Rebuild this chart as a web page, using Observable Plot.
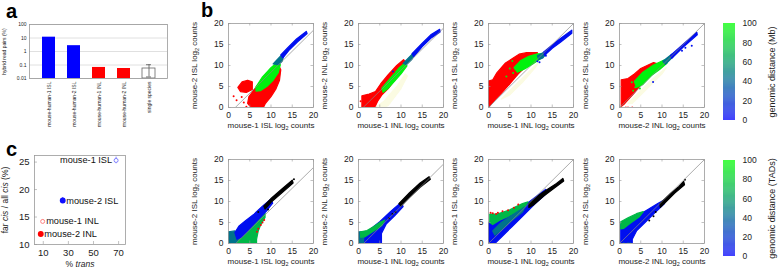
<!DOCTYPE html>
<html><head><meta charset="utf-8">
<script src="https://cdn.jsdelivr.net/npm/d3@7"></script>
<script src="https://cdn.jsdelivr.net/npm/@observablehq/plot@0.6"></script>
<style>
body{margin:0;background:#fff;}
#root{position:relative;width:778px;height:272px;overflow:hidden;font-family:"Liberation Sans",Arial,Helvetica,sans-serif;background:#fff;}
#root svg{position:absolute;overflow:visible;}
.plab{position:absolute;font-weight:bold;font-size:20px;line-height:21px;color:#000;}
</style></head><body><div id="root"></div>
<script>
// ---------------- DATA ----------------
// panel a
const aCategories = ["mouse-human-1 ISL","mouse-human-2 ISL","mouse-human-1 INL","mouse-human-2 INL","single species"];
const aGroups = ["ISL","ISL","INL","INL","single"];
const aValues = [11.5, 2.7, 0.066, 0.055, 0.055];
const aErrCategory = ["single species"];
const aErrLow = [0.013];
const aErrHigh = [0.105];
const aTicks = [0.01, 0.1, 1, 10, 100];

// panel c
const cSamples = ["mouse-1 ISL","mouse-2 ISL","mouse-1 INL","mouse-2 INL"];
const cTrans = [68, 25.5, 9.5, 8];
const cFarCis = [25.3, 18.0, 14.2, 11.9];
const cErr = [0.6, 0.5, 0.3, 0.3];
const cOpen = [true, false, true, false];
const cXTicks = [10, 30, 50, 70];
const cYTicks = [10, 15, 20, 25];

// panel b : tick labels and titles
const bTicks = [0, 5, 10, 15, 20];
const cbTicks = [0, 20, 40, 60, 80, 100];
const cbTitleTop = "genomic distance (Mb)";
const cbTitleBottom = "genomic distance (TADs)";

// panel b : clouds, [log2 x, log2 y]
// top row
const T1_diag = [[1.6,0],[20,18.4]];
const T1_red = [[4.5,1.0],[4.8,2.6],[6,4.2],[8,6.8],[10,9.2],[11.6,10.4],[12.3,9],[12,6.5],[11.2,4.5],[10,2.6],[8.7,1],[8.2,0],[5.6,0],[5,0.4]];
const T1_redIsland = [[2.2,4.8],[3.2,6.1],[4.5,6.5],[5.6,6.1],[5.6,4.3],[4.2,3.6],[2.8,3.8]];
const T1_green = [[6.4,4.8],[8,7.3],[10,9.5],[11.5,10.8],[12.2,10.2],[11.7,8.3],[10.5,6.5],[9,5],[7.5,4],[6.5,3.9]];
const T1_teal = [[10.5,10.4],[12.5,12.5],[13,12.3],[12.6,11],[11.8,10.2]];
const T1_blue = [[12.3,12.5],[14,14.3],[16,16.3],[18.3,18.1],[18.5,17.6],[16.2,15.6],[14.2,13.6],[12.8,11.8]];
const T1_redDots = [[1.2,2.7],[1.9,1.7],[3.1,2.5],[3.6,1.2],[6.4,0],[7,0],[4.2,0.2]];

const T2_diag = [[1.1,0],[20,18.9]];
const T2_pale = [[4,0],[6,1.5],[9,5],[11,8],[11.5,7.5],[10,4.5],[7,0.5],[6,0]];
const T2_red = [[0.8,0],[0.8,2.8],[2.5,3.2],[4,3.8],[5.2,5.6],[7,7.8],[9,10],[10.6,11.4],[11.2,10.6],[10,8.6],[8.5,6.5],[7,4.5],[5.5,3],[4.5,1.5],[4,0.4],[3.5,0]];
const T2_green = [[5.5,4.6],[7.5,7],[9.5,9.4],[11,10.6],[11.4,9.9],[10,8],[8.5,6.3],[7,4.6],[5.8,3.6]];
const T2_teal = [[10.5,10.5],[12.8,12.9],[13.2,12.5],[12.5,11.4],[11.3,10.2]];
const T2_blue = [[12.6,12.8],[15,15.3],[17,17.3],[19.1,18.6],[19.2,18.0],[17,16.5],[15,14.5],[13,12.1]];
const T2_redDots = [[0.5,1.5],[1.5,0.4],[2.5,0],[4,0],[8.3,8.4]];
const T2_blueDots = [[8.1,8.6]];

const T3_diag = [[0,0],[20,20]];
const T3_pale = [[3,2],[6,5],[9,8],[12,11],[11,9.5],[8,6],[5,3]];
const T3_red = [[0,0],[0,6.3],[1,6.6],[2,8.3],[4,10.6],[6,11.9],[7.2,12.7],[9,13.1],[11.5,13.1],[11.3,11.8],[9,10],[7,8],[5,5.6],[3,3.4],[1.5,1.8],[0.5,0.6]];
const T3_green = [[6,9.5],[7.5,11.1],[9.5,12.2],[11.5,12.8],[12.8,12.8],[12.2,11.6],[10.5,10.4],[8.5,9.2],[6.8,8.4]];
const T3_teal = [[11.5,12.3],[13.3,13.3],[13.6,12.8],[12.8,11.8],[11.8,11.4]];
const T3_blue = [[13,13.2],[15,14.9],[17,16.5],[19.6,18.4],[19.6,17.7],[17,15.6],[15,14.1],[13.2,12.4]];
const T3_greenDots = [[5.6,11.1],[5,9.3],[5.8,8.2],[6.8,10],[4.2,7.4]];
const T3_blueDots = [[11.5,11],[12,10.8],[13.5,12.3]];

const T4_diag = [[0,0],[20,20]];
const T4_pale = [[2,1],[5,4],[8,7],[11,9.5],[10,8],[6,4],[3,1]];
const T4_red = [[0.4,0.3],[0.4,6.6],[2,6.9],[3.5,8],[5,9.3],[6.5,10],[8,10.7],[9,10.4],[8.5,9.4],[7,7.8],[5,5.4],[3.5,3.5],[2,1.8],[1,0.7]];
const T4_green = [[3.5,6.2],[5.5,8.4],[8,10.1],[10.5,11.3],[11.2,10.6],[9.5,9.1],[7.5,7.6],[5.5,5.5],[4,4.8]];
const T4_teal = [[10.2,11],[12.3,12.7],[12.7,12.2],[11.8,11.3],[10.8,10.3]];
const T4_blue = [[12,12.4],[15,15.1],[18.2,17.9],[18.3,17.3],[15,14.4],[12.3,11.7]];
const T4_blueDots = [[14.7,13.5],[13.2,13.1],[17,14.7],[15.5,14.2],[7.9,6.1]];
const T4_greenDots = [[2.9,6],[3.7,4.8],[4.8,4.5],[3.2,4]];
const T4_redDots = [[0.5,0],[1.5,0],[2,0],[3,0]];

// bottom row
const B1_diag = [[1.7,0],[20,18.1]];
const B1_mix = [[0,0],[0,2.8],[1.5,3],[2.5,2],[2.5,0]];
const B1_green = [[2,0],[3,1.8],[4.5,3.1],[6,4.6],[7.5,6.1],[8.6,7.2],[8.6,6.2],[7.6,4.5],[7,3],[6.6,1],[6.6,0]];
const B1_blue = [[1.5,2.6],[2.5,4.2],[4,5.4],[6,7],[8,8.9],[10,10.6],[10.4,9.6],[9,7.8],[7.5,6.2],[6,4.6],[4.5,3],[3,1.5],[2,1]];
const B1_black = [[8.3,8.9],[10,10.7],[12.5,12.9],[15,15.1],[15.2,14.4],[12.5,12],[10,9.8],[8.6,8.2]];
const B1_redDots = [[7.6,4.4],[8.4,5.6],[6.7,2.8],[8,5],[7,3.5]];
const B1_blackDots = [[15.4,15.3],[9.3,8.1],[7,7.5]];

const B2_diag = [[1.2,0],[20,18.9]];
const B2_mix = [[0,0],[0,2.8],[1.5,2.8],[2,0]];
const B2_green = [[0.5,1.5],[0.5,2.8],[2,3.1],[3.5,4],[5,5],[6.2,5.6],[5.5,4.3],[3.5,2.9],[1.5,1.6]];
const B2_blue = [[1.5,2.3],[3,3.6],[5,5.2],[7.5,7.6],[10,9.8],[10.5,8.8],[8.5,6.6],[6.5,4.6],[5.4,2.4],[5.4,0],[1.5,0]];
const B2_black = [[9.5,9.5],[12,12.1],[14.5,14.4],[16.6,15.9],[16.9,15.3],[14.5,13.4],[12,11],[10,8.9]];
const B2_blackDots = [[7.2,6],[8,7],[8.7,7.5]];

const B3_diag = [[0,0],[20,20]];
const B3_blueLow = [[0,0],[0,5],[2,5.8],[5,6.8],[8,8.7],[11,11],[13.5,12.9],[13.5,11.8],[11,9.5],[8,6.5],[5.5,4],[3,1.5],[1.5,0]];
const B3_mid = [[1,3],[3,5],[6,7],[8.5,8.7],[8,7.5],[5.5,5.5],[3,3.2],[1.5,2]];
const B3_green = [[0.3,5],[0.3,7],[2,7],[3.5,7.5],[5,8],[6.5,8.8],[8,9.5],[9.3,9.9],[8.5,8.7],[6.5,7.5],[4.5,6.4],[2.5,5.5],[1,4.5]];
const B3_black = [[9.5,9.5],[12,11.6],[14,13],[16,14.3],[17.5,15.5],[17.7,14.9],[15.5,13.2],[13,11.3],[10.5,9.1],[9.5,8.6]];
const B3_redDots = [[0.5,7.3],[1,7.2],[1.8,7],[2.2,7.3],[3.3,7.7],[4.6,7.9],[6,8.5],[7,9.3]];

const B4_diag = [[0,0],[20,20]];
const B4_blue = [[0.3,0],[0.3,4.5],[2,5.6],[4,6.5],[6.5,8],[9,9.5],[10.6,10.4],[10.6,9.5],[8,7],[6,5],[4,3],[3,1],[3,0]];
const B4_green = [[0.3,3.5],[0.3,5.2],[2,6.1],[4,7.1],[5.6,7.6],[4.6,6.3],[2.6,4.9],[1,3.6]];
const B4_black = [[9.5,9.5],[12,11.9],[14,13.6],[15.1,14.8],[15.3,14],[13,12],[11,10],[9.6,8.6]];
const B4_blackDots = [[7,5.5],[8,6.5],[8.5,7.5],[15.4,15.2]];
const B4_greenDots = [[1,0],[2,0],[2.5,0]];

// genomic distance values assigned to the coloured parts of each cloud
const DIST_GREEN = 95, DIST_MIDGREEN = 72, DIST_TEAL = 45, DIST_BLUE = 6;

// ---------------- STYLE / LAYOUT ----------------
const FONT = '"Liberation Sans", Arial, Helvetica, sans-serif';
const RED = "#ff0000", BLACK = "#000", PALE = "#fbfbe2";
const rampBG = d3.interpolateRgb("#0000ff", "#00ff00");
const colorScale = {type: "linear", domain: [0, 100], interpolate: t => rampBG(t)};
const root = document.getElementById("root");
function place(svg, left, top) { svg.style.left = left + "px"; svg.style.top = top + "px"; root.appendChild(svg); }
function label(txt, left, top) { const d = document.createElement("div"); d.className = "plab"; d.textContent = txt; d.style.left = left + "px"; d.style.top = top + "px"; root.appendChild(d); }

function richify(svg) {
  d3.select(svg).selectAll("text").each(function() {
    if (this.querySelector("tspan")) return;
    const t = this.textContent;
    let parts = null;
    if (t.includes("log2")) { const [a, b] = t.split("log2"); parts = [[a + "log", ""], ["2", "sub"], [b, "after"]]; }
    else if (t === "far cis / all cis (%)") parts = [["far ", ""], ["cis", "it"], [" / all ", ""], ["cis", "it"], [" (%)", ""]];
    else if (t === "% trans") parts = [["% ", ""], ["trans", "it"]];
    if (!parts) return;
    const el = d3.select(this); el.text(null);
    for (const [s, o] of parts) {
      const ts = el.append("tspan").text(s);
      if (o === "it") ts.attr("font-style", "italic");
      if (o === "sub") ts.attr("font-size", "5.5px").attr("dy", "2.2");
      if (o === "after") ts.attr("dy", "-2.2");
    }
  });
  return svg;
}

// ---------------- PANEL a ----------------
const aRows = aCategories.map((c, i) => ({cat: c, group: aGroups[i], value: aValues[i]}));
const aErr = aErrCategory.map((c, i) => ({cat: c, lo: aErrLow[i], hi: aErrHigh[i]}));
const panelA = Plot.plot({
  width: 170, height: 140, marginLeft: 29, marginRight: 3, marginTop: 24, marginBottom: 62,
  style: {background: "transparent", fontFamily: FONT, fontSize: "5px", color: "#222", overflow: "visible"},
  x: {domain: aCategories, padding: 0.5, label: null, tickSize: 0, tickRotate: -90, tickPadding: 3},
  y: {type: "log", domain: [0.01, 100], ticks: aTicks, tickFormat: d => String(d), label: null, tickSize: 0, tickPadding: 3},
  color: {domain: ["ISL", "INL"], range: ["#0000ff", "#ff0000"]},
  marks: [
    Plot.gridY(aTicks, {stroke: "#ccc", strokeOpacity: 0.6}),
    Plot.barY(aRows.filter(d => d.group !== "single"), {x: "cat", y1: aTicks[0], y2: "value", fill: "group"}),
    Plot.barY(aRows.filter(d => d.group === "single"), {x: "cat", y1: aTicks[0], y2: "value", fill: "white", stroke: "#666", strokeWidth: 0.8}),
    Plot.ruleX(aErr, {x: "cat", y1: "lo", y2: "hi", stroke: "#555", strokeWidth: 0.8}),
    Plot.tickY(aErr, {x: "cat", y: "hi", stroke: "#555", strokeWidth: 0.8, insetLeft: 4, insetRight: 4}),
    Plot.tickY(aErr, {x: "cat", y: "lo", stroke: "#555", strokeWidth: 0.8, insetLeft: 4, insetRight: 4}),
    Plot.frame({stroke: "#999", strokeWidth: 0.8}),
    Plot.text(["hybrid read pairs (%)"], {frameAnchor: "left", dx: -25, rotate: -90, textAnchor: "middle", fontSize: 5})
  ]
});
place(panelA, 0, 0);

// ---------------- PANEL c ----------------
const cRows = cSamples.map((s, i) => ({sample: s, trans: cTrans[i], farcis: cFarCis[i], err: cErr[i], open: cOpen[i]}));
const cColor = {domain: cSamples, range: ["#8080ff", "#1010ff", "#ff8080", "#ff0000"]};
const panelC = Plot.plot({
  width: 135, height: 132, marginLeft: 34, marginRight: 10, marginTop: 15, marginBottom: 28,
  style: {background: "transparent", fontFamily: FONT, fontSize: "9.5px", color: "#222", overflow: "visible"},
  x: {domain: [3, 75.5]}, y: {domain: [10, 26.2]},
  color: cColor,
  marks: [
    Plot.frame({stroke: "#999", strokeWidth: 0.8}),
    Plot.axisX(cXTicks, {tickSize: 0, tickPadding: 5, label: null, fontSize: 9.5}),
    Plot.axisY(cYTicks, {tickSize: 0, tickPadding: 5, label: null, fontSize: 9.5}),
    Plot.tickX(cXTicks, {x: d => d, insetTop: 86, stroke: "#999", strokeWidth: 0.6}),
    Plot.tickY(cYTicks, {y: d => d, insetRight: 88, stroke: "#999", strokeWidth: 0.6}),
    Plot.ruleX(cRows, {x: "trans", y1: d => d.farcis - d.err, y2: d => d.farcis + d.err, stroke: "sample", strokeWidth: 1}),
    Plot.dot(cRows.filter(d => d.open), {x: "trans", y: "farcis", r: 2, stroke: "sample", fill: "white", strokeWidth: 1}),
    Plot.dot(cRows.filter(d => !d.open), {x: "trans", y: "farcis", r: 2.2, fill: "sample", stroke: "sample"}),
    Plot.text(cRows.filter(d => d.trans > 50), {x: "trans", y: "farcis", text: "sample", textAnchor: "end", dx: -4, fontSize: 9.2, fill: "#111"}),
    Plot.text(cRows.filter(d => d.trans <= 50), {x: "trans", y: "farcis", text: "sample", textAnchor: "start", dx: 3.5, fontSize: 9.2, fill: "#111"}),
    Plot.text(["far cis / all cis (%)"], {frameAnchor: "left", dx: -29, rotate: -90, textAnchor: "middle", fontSize: 8.5}),
    Plot.text(["% trans"], {frameAnchor: "bottom", dy: 22, textAnchor: "middle", fontSize: 8.5})
  ]
});
place(richify(panelC), 0, 140);

// ---------------- PANEL b ----------------
const G = (pts, c) => ({pts, c});
const K = (pts, col) => ({pts, col});
const bPanels = [
  {row: 0, col: 0, xLabel: "mouse-1 ISL log2 counts", yLabel: "mouse-2 ISL log2 counts", diag: T1_diag,
   polys: [K(T1_red, RED), K(T1_redIsland, RED), G(T1_green, DIST_GREEN), G(T1_teal, DIST_TEAL), G(T1_blue, DIST_BLUE)],
   dots: [K(T1_redDots, RED)]},
  {row: 0, col: 1, xLabel: "mouse-1 INL log2 counts", yLabel: "mouse-2 INL log2 counts", diag: T2_diag,
   polys: [K(T2_pale, PALE), K(T2_red, RED), G(T2_green, DIST_GREEN), G(T2_teal, DIST_TEAL), G(T2_blue, DIST_BLUE)],
   dots: [K(T2_redDots, RED), G(T2_blueDots, DIST_BLUE)]},
  {row: 0, col: 2, xLabel: "mouse-1 INL log2 counts", yLabel: "mouse-1 ISL log2 counts", diag: T3_diag,
   polys: [K(T3_pale, PALE), K(T3_red, RED), G(T3_green, DIST_GREEN), G(T3_teal, DIST_TEAL), G(T3_blue, DIST_BLUE)],
   dots: [G(T3_greenDots, DIST_GREEN), G(T3_blueDots, DIST_BLUE)]},
  {row: 0, col: 3, xLabel: "mouse-2 INL log2 counts", yLabel: "mouse-2 ISL log2 counts", diag: T4_diag,
   polys: [K(T4_pale, PALE), K(T4_red, RED), G(T4_green, DIST_GREEN), G(T4_teal, DIST_TEAL), G(T4_blue, DIST_BLUE)],
   dots: [K(T4_redDots, RED), G(T4_greenDots, DIST_GREEN), G(T4_blueDots, DIST_BLUE)]},
  {row: 1, col: 0, xLabel: "mouse-1 ISL log2 counts", yLabel: "mouse-2 ISL log2 counts", diag: B1_diag,
   polys: [G(B1_mix, DIST_TEAL), G(B1_green, DIST_MIDGREEN), G(B1_blue, DIST_BLUE), K(B1_black, BLACK)],
   dots: [K(B1_redDots, RED), K(B1_blackDots, BLACK)]},
  {row: 1, col: 1, xLabel: "mouse-1 INL log2 counts", yLabel: "mouse-2 INL log2 counts", diag: B2_diag,
   polys: [G(B2_mix, DIST_TEAL), G(B2_blue, DIST_BLUE), G(B2_green, DIST_MIDGREEN), K(B2_black, BLACK)],
   dots: [K(B2_blackDots, BLACK)]},
  {row: 1, col: 2, xLabel: "mouse-1 INL log2 counts", yLabel: "mouse-1 ISL log2 counts", diag: B3_diag,
   polys: [G(B3_blueLow, DIST_BLUE), G(B3_green, DIST_MIDGREEN), G(B3_mid, DIST_TEAL), K(B3_black, BLACK)],
   dots: [K(B3_redDots, RED)]},
  {row: 1, col: 3, xLabel: "mouse-2 INL log2 counts", yLabel: "mouse-2 ISL log2 counts", diag: B4_diag,
   polys: [G(B4_blue, DIST_BLUE), G(B4_green, DIST_MIDGREEN), K(B4_black, BLACK)],
   dots: [K(B4_blackDots, BLACK), G(B4_greenDots, DIST_MIDGREEN)]}
];
const frameLefts = [228, 358, 488, 619];
const rowTops = [0, 135], rowHeights = [135, 137], rowMarginTop = [23, 24];
const FW = 85, FH = 84, ML = 44, MR = 6;

function scatter(p) {
  const H = rowHeights[p.row], MT = rowMarginTop[p.row];
  const marks = [];
  for (const poly of p.polys) {
    const f = poly.c != null ? () => poly.c : poly.col;
    marks.push(Plot.line(poly.pts, {x: d => d[0], y: d => d[1], fill: f, stroke: f, strokeWidth: 1.2, curve: "linear-closed", clip: true}));
  }
  for (const dd of p.dots) {
    const f = dd.c != null ? () => dd.c : dd.col;
    marks.push(Plot.dot(dd.pts, {x: d => d[0], y: d => d[1], r: 1, fill: f, clip: true}));
  }
  marks.push(Plot.line(p.diag, {x: d => d[0], y: d => d[1], stroke: "#888", strokeWidth: 0.7, clip: true}));
  marks.push(Plot.frame({stroke: "#999", strokeWidth: 0.8}));
  marks.push(Plot.tickX(bTicks, {x: d => d, insetTop: FH - 2.5, stroke: "#999", strokeWidth: 0.6}));
  marks.push(Plot.tickX(bTicks, {x: d => d, insetBottom: FH - 2.5, stroke: "#999", strokeWidth: 0.6}));
  marks.push(Plot.tickY(bTicks, {y: d => d, insetRight: FW - 2.5, stroke: "#999", strokeWidth: 0.6}));
  marks.push(Plot.tickY(bTicks, {y: d => d, insetLeft: FW - 2.5, stroke: "#999", strokeWidth: 0.6}));
  marks.push(Plot.axisX(bTicks, {tickSize: 0, tickPadding: 4, label: null, fontSize: 8.5}));
  marks.push(Plot.axisY(bTicks, {tickSize: 0, tickPadding: 5, label: null, fontSize: 8.5}));
  marks.push(Plot.text([p.xLabel], {frameAnchor: "bottom", dy: 20, textAnchor: "middle", fontSize: 8}));
  marks.push(Plot.text([p.yLabel], {frameAnchor: "left", dx: -34, rotate: -90, textAnchor: "middle", fontSize: 8}));
  const svg = Plot.plot({
    width: ML + FW + MR, height: H, marginLeft: ML, marginRight: MR, marginTop: MT, marginBottom: H - MT - FH,
    style: {background: "transparent", fontFamily: FONT, fontSize: "8.5px", color: "#222", overflow: "visible"},
    x: {domain: [0, 20]}, y: {domain: [0, 20]},
    color: colorScale,
    marks
  });
  place(richify(svg), frameLefts[p.col] - ML, rowTops[p.row]);
}
bPanels.forEach(scatter);

// colour bars (legends of the colour scale)
function colorbar(title, top, height, mt, mb) {
  const steps = d3.range(0, 100, 0.5);
  const svg = Plot.plot({
    width: 63, height, marginLeft: 8, marginRight: 43, marginTop: mt, marginBottom: mb,
    style: {background: "transparent", fontFamily: FONT, fontSize: "8.5px", color: "#222", overflow: "visible"},
    x: {domain: [0, 1], axis: null}, y: {domain: [0, 100], axis: null},
    color: colorScale,
    marks: [
      Plot.rect(steps, {x1: 0, x2: 1, y1: d => d, y2: d => d + 0.5, fill: d => d + 0.25}),
      Plot.axisY(cbTicks, {anchor: "right", tickSize: 0, tickPadding: 7, label: null, fontSize: 8.5}),
      Plot.text([title], {frameAnchor: "right", dx: 37, rotate: -90, textAnchor: "middle", fontSize: 9})
    ]
  });
  place(svg, 715, top);
}
colorbar(cbTitleTop, 0, 135, 23, 15);
colorbar(cbTitleBottom, 135, 137, 25, 16);

label("a", 6, 1);
label("b", 201, 0);
label("c", 6, 139);
</script></body></html>
